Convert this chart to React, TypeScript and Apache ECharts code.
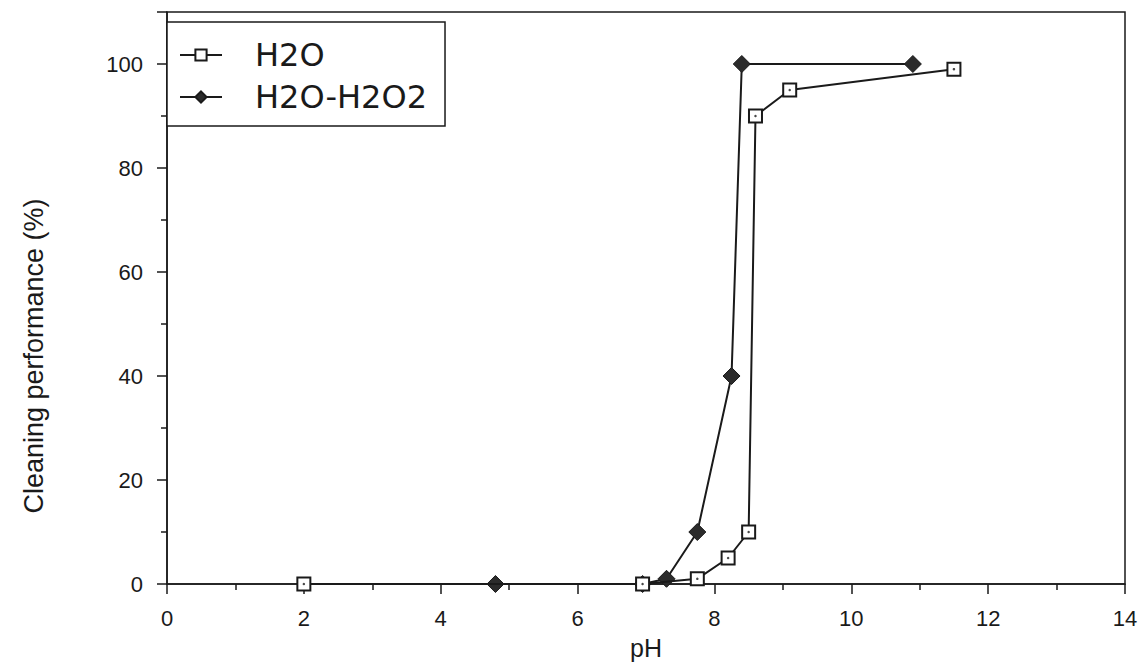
import React, { useEffect, useRef } from "react";
import * as echarts from "echarts";

const xTicks = { min: 0, max: 14, interval: 2 };
const yTicks = { min: 0, max: 110, interval: 20 };

const h2oPH = [2, 6.95, 7.75, 8.2, 8.5, 8.6, 9.1, 11.5];
const h2oPerf = [0, 0, 1, 5, 10, 90, 95, 99];

const h2o2PH = [4.8, 6.95, 7.3, 7.75, 8.25, 8.4, 10.9];
const h2o2Perf = [0, 0, 1, 10, 40, 100, 100];

const seriesNames = ["H2O", "H2O-H2O2"];
const xName = "pH";
const yName = "Cleaning performance (%)";

const FONT = "'Liberation Sans', Arial, Helvetica, sans-serif";
const LEGEND_FONT = "'DejaVu Sans', 'Liberation Sans', sans-serif";
const INK = "#1a1a1a";

export default function App() {
  const ref = useRef<HTMLDivElement>(null);
  useEffect(() => {
    if (!ref.current) return;
    const chart = echarts.init(ref.current, undefined, { renderer: "svg" });
    const h2oData = h2oPH.map((x, i) => [x, h2oPerf[i]]);
    const h2o2Data = h2o2PH.map((x, i) => [x, h2o2Perf[i]]);
    chart.setOption({
      animation: false,
      backgroundColor: "#ffffff",
      textStyle: { fontFamily: FONT, color: INK },
      grid: {
        left: 167,
        right: 13,
        top: 12,
        bottom: 81,
        containLabel: false,
        outerBoundsMode: "none",
        show: true,
        borderColor: INK,
        borderWidth: 1.5,
        backgroundColor: "transparent",
      },
      legend: {
        data: seriesNames,
        orient: "vertical",
        left: 167,
        top: 22,
        padding: [17, 18, 13, 12],
        itemGap: 10,
        itemWidth: 42,
        itemHeight: 14,
        borderColor: INK,
        borderWidth: 1.5,
        backgroundColor: "#ffffff",
        textStyle: {
          fontFamily: LEGEND_FONT,
          fontSize: 32,
          color: INK,
          padding: [0, 0, 0, 28],
        },
      },
      graphic: [
        {
          type: "text",
          x: 34,
          y: 356,
          rotation: Math.PI / 2,
          style: {
            text: yName,
            fontSize: 27,
            fontFamily: FONT,
            fill: INK,
            textAlign: "center",
            textVerticalAlign: "middle",
          },
        },
      ],
      xAxis: {
        type: "value",
        min: xTicks.min,
        max: xTicks.max,
        interval: xTicks.interval,
        name: xName,
        nameLocation: "middle",
        nameGap: 51,
        nameTextStyle: { fontSize: 25, lineHeight: 25, color: INK, fontFamily: FONT },
        axisLine: { show: true, onZero: false, lineStyle: { color: INK, width: 1.5 } },
        axisTick: { show: true, inside: false, length: 10, lineStyle: { color: INK, width: 1.5 } },
        minorTick: { show: true, splitNumber: 2, length: 6, lineStyle: { color: INK, width: 1.5 } },
        splitLine: { show: false },
        axisLabel: { fontSize: 22, color: INK, margin: 23, fontFamily: FONT },
      },
      yAxis: {
        type: "value",
        min: yTicks.min,
        max: yTicks.max,
        interval: yTicks.interval,
        axisLine: { show: true, lineStyle: { color: INK, width: 1.5 } },
        axisTick: { show: true, inside: false, length: 10, lineStyle: { color: INK, width: 1.5 } },
        minorTick: { show: true, splitNumber: 2, length: 6, lineStyle: { color: INK, width: 1.5 } },
        splitLine: { show: false },
        axisLabel: {
          fontSize: 22,
          color: INK,
          margin: 24,
          fontFamily: FONT,
          showMaxLabel: false,
          formatter: (v: number) => (v > 100 ? "" : String(v)),
        },
      },
      series: [
        {
          name: seriesNames[1],
          type: "line",
          data: h2o2Data,
          symbol: "diamond",
          symbolSize: 17,
          lineStyle: { color: INK, width: 2 },
          itemStyle: { color: "#2b2b2b", borderColor: INK, borderWidth: 1 },
          z: 2,
        },
        {
          name: seriesNames[0],
          type: "line",
          data: h2oData,
          symbol: "rect",
          symbolSize: 13,
          lineStyle: { color: INK, width: 2 },
          itemStyle: { color: "#ffffff", borderColor: INK, borderWidth: 2 },
          z: 3,
        },
        {
          name: "h2o-dots",
          type: "scatter",
          data: h2oData,
          symbol: "circle",
          symbolSize: 2.5,
          itemStyle: { color: INK },
          silent: true,
          z: 4,
        },
      ],
    });
    return () => chart.dispose();
  }, []);
  return <div ref={ref} style={{ width: 1138, height: 665, position: "absolute", left: 0, top: 0 }} />;
}
